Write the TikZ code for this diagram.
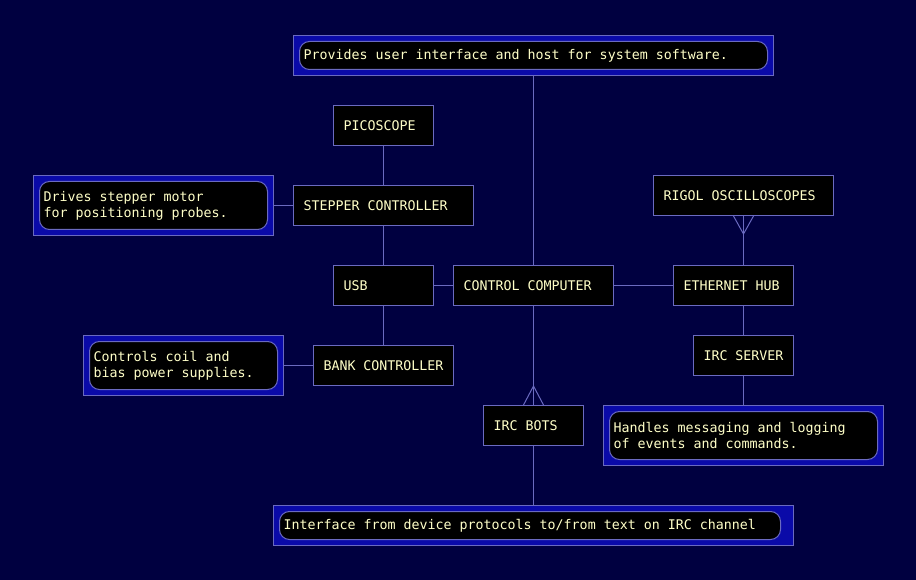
\documentclass[tikz,border=0pt]{standalone}
\usepackage{fontspec}
\usepackage{tikz}
\usetikzlibrary{positioning}
\newfontfamily\monofont{DejaVu Sans Mono}
\newcommand{\monotext}{\monofont\fontsize{13.3}{16}\selectfont}
\definecolor{navy}{HTML}{000040}
\definecolor{noteblue}{HTML}{0A0AA8}
\definecolor{edge}{HTML}{6A6AC0}
\definecolor{ink}{HTML}{FFFFC8}
\newcommand{\boxw}{100}

\begin{document}
\begin{tikzpicture}[x=1pt, y=-1pt,
        every node/.style={font=\monotext, text=ink, inner sep=0pt, anchor=north west},
        unit/.style n args={2}{draw=edge, fill=black, line width=1pt, minimum width=#1, minimum height=#2, text width=#1-20, align=flush left},
        noteouter/.style n args={2}{draw=edge, fill=noteblue, line width=1pt, minimum width=#1, minimum height=#2},
        noteinner/.style n args={2}{draw=edge, fill=black, line width=1pt, rounded corners=10pt, minimum width=#1, minimum height=#2, text width=#1-8, align=flush left},
        link/.style={draw=edge, line width=1pt}]
                %\draw[help lines] (0,0) grid (916,580);
                \fill[navy] (0,0) rectangle (916,580);
                \useasboundingbox (0,0) rectangle (916,580);
                % notes
                \node[noteouter={480}{40}] (hostnote) at (293,35) {};
                \node[noteinner={468}{28}] (hostnotetxt) at (299,41) {Provides user interface and host for system software.};
                \node[noteouter={240}{60}] (stepnote) at (33,175) {};
                \node[noteinner={228}{48}] (stepnotetxt) at (39,181) {Drives stepper motor\\for positioning probes.};
                \node[noteouter={200}{60}] (banknote) at (83,335) {};
                \node[noteinner={188}{48}] (banknotetxt) at (89,341) {Controls coil and\\bias power supplies.};
                \node[noteouter={280}{60}] (ircnote) at (603,405) {};
                \node[noteinner={268}{48}] (ircnotetxt) at (609,411) {Handles messaging and logging\\of events and commands.};
                \node[noteouter={520}{40}] (botnote) at (273,505) {};
                \node[noteinner={501}{28}] (botnotetxt) at (279,511) {Interface from device protocols to/from text on IRC channel};
                % units
                \node[unit={\boxw}{40}] (pico) at (333,105) {PICOSCOPE};
                \node[unit={180}{40}] (stepper) at (293,185) {STEPPER CONTROLLER};
                \node[unit={\boxw}{40}] (usb) at (333,265) {USB};
                \node[unit={140}{40}] (bank) at (313,345) {BANK CONTROLLER};
                \node[unit={160}{40}] (comp) at (453,265) {CONTROL COMPUTER};
                \node[unit={\boxw}{40}] (bots) at (483,405) {IRC BOTS};
                \node[unit={180}{40}] (rigol) at (653,175) {RIGOL OSCILLOSCOPES};
                \node[unit={120}{40}] (eth) at (673,265) {ETHERNET HUB};
                \node[unit={\boxw}{40}] (ircserv) at (693,335) {IRC SERVER};
                % links
                \draw[link] (pico.south) -- (stepper.north);
                \draw[link] (stepper.south) -- (usb.north);
                \draw[link] (usb.south) -- (bank.north);
                \draw[link] (stepnote.east) -- (stepper.west);
                \draw[link] (banknote.east) -- (bank.west);
                \draw[link] (usb.east) -- (comp.west);
                \draw[link] (comp.east) -- (eth.west);
                \draw[link] (comp.north) -- (hostnote.south);
                \draw[link] (comp.south) -- (bots.north);
                \draw[link] ([xshift=-10pt]bots.north) -- ([yshift=19pt]bots.north) -- ([xshift=10pt]bots.north);
                \draw[link] (bots.south) -- (botnote.north);
                \draw[link] (rigol.south) -- (rigol.south |- eth.north);
                \draw[link] ([xshift=-10pt]rigol.south) -- ([yshift=-18pt]rigol.south) -- ([xshift=10pt]rigol.south);
                \draw[link] (ircserv.north |- eth.south) -- (ircserv.north);
                \draw[link] (ircserv.south) -- (ircnote.north);
        \end{tikzpicture}
\end{document}
